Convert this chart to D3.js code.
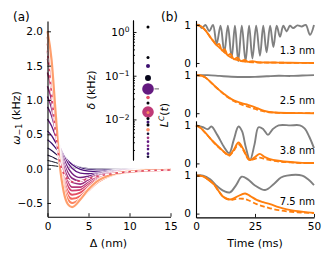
<!DOCTYPE html>
<html>
<head>
<meta charset="utf-8">
<script src="https://cdn.jsdelivr.net/npm/d3@7"></script>
<style>
  body { margin: 0; background: #fff; }
  svg { display: block; font-family: "DejaVu Sans", sans-serif; }
</style>
</head>
<body>
<svg id="chart" width="331" height="261"></svg>
<script>
// ---- panel (a): omega_-1 vs separation ----
const deltaNm = [0, 0.5, 1, 1.5, 2, 2.5, 3, 4, 5, 6, 8, 10, 12, 15];
const shade = [0.00, 0.04, 0.09, 0.14, 0.19, 0.24, 0.29, 0.34, 0.39, 0.44, 0.50, 0.56, 0.62, 0.68, 0.74, 0.80];
const omega = [
  [0.05, 0.045, 0.038, 0.03, 0.023, 0.017, 0.012, 0.005, 0.001, -0.001, -0.001, 0, 0, 0],
  [0.12, 0.105, 0.088, 0.07, 0.054, 0.04, 0.028, 0.011, 0.002, -0.002, -0.003, -0.002, -0.001, 0],
  [0.2, 0.175, 0.145, 0.115, 0.087, 0.064, 0.044, 0.016, 0.001, -0.005, -0.005, -0.003, -0.002, -0.001],
  [0.3, 0.265, 0.215, 0.168, 0.125, 0.09, 0.06, 0.018, -0.004, -0.011, -0.01, -0.006, -0.003, -0.001],
  [0.42, 0.37, 0.3, 0.23, 0.165, 0.11, 0.068, 0.012, -0.015, -0.022, -0.017, -0.01, -0.005, -0.002],
  [0.55, 0.48, 0.38, 0.28, 0.19, 0.115, 0.06, -0.01, -0.035, -0.04, -0.028, -0.016, -0.009, -0.004],
  [0.72, 0.62, 0.47, 0.32, 0.185, 0.08, 0.005, -0.065, -0.075, -0.065, -0.04, -0.023, -0.013, -0.005],
  [0.9, 0.77, 0.55, 0.32, 0.14, 0.01, -0.07, -0.13, -0.11, -0.078, -0.035, -0.018, -0.01, -0.005],
  [1.05, 0.88, 0.6, 0.3, 0.08, -0.06, -0.14, -0.18, -0.14, -0.095, -0.042, -0.022, -0.013, -0.007],
  [1.2, 1.0, 0.64, 0.27, 0.02, -0.13, -0.2, -0.225, -0.17, -0.11, -0.05, -0.026, -0.015, -0.008],
  [1.4, 1.15, 0.7, 0.25, -0.05, -0.2, -0.27, -0.27, -0.2, -0.13, -0.058, -0.03, -0.018, -0.01],
  [1.6, 1.3, 0.75, 0.22, -0.1, -0.26, -0.32, -0.31, -0.23, -0.15, -0.066, -0.035, -0.021, -0.012],
  [1.72, 1.39, 0.78, 0.18, -0.16, -0.33, -0.38, -0.35, -0.26, -0.17, -0.074, -0.039, -0.024, -0.014],
  [1.82, 1.46, 0.8, 0.14, -0.22, -0.39, -0.44, -0.4, -0.29, -0.19, -0.082, -0.043, -0.027, -0.016],
  [1.92, 1.53, 0.81, 0.1, -0.28, -0.45, -0.5, -0.44, -0.32, -0.21, -0.09, -0.047, -0.03, -0.018],
  [2.0, 1.58, 0.8, 0.05, -0.35, -0.52, -0.56, -0.45, -0.3, -0.19, -0.08, -0.042, -0.026, -0.016]
];
const dashedOmega = [1.7, 1.1, 0.5, 0.1, -0.08, -0.16, -0.19, -0.18, -0.145, -0.115, -0.07, -0.045, -0.03, -0.02];
const xTicksA = [0, 5, 10, 15];
const yTicksA = [-0.5, 0, 0.5, 1, 1.5, 2];

// inset: delta values
const deltaKhz = [1.3, 0.26, 0.167, 0.089, 0.0498, 0.0318, 0.0238, 0.0148, 0.0144, 0.0105, 0.0087, 0.0075, 0.0058, 0.0047, 0.0038, 0.0031, 0.0025, 0.0021, 0.00165, 0.0014];
const dotShade = [0.0, 0.02, 0.2, 0.05, 0.3, 0.62, 0.02, 0.52, 0.75, 0.02, 0.2, 0.02, 0.75, 0.1, 0.45, 0.3, 0.35, 0.25, 0.2, 0.1];
const dotWeight = [1.3, 1.3, 2.3, 5, 19, 1.8, 1.3, 19, 1.3, 1.3, 1.3, 1.3, 1.8, 1, 1, 1, 1, 1, 1, 1];
const markDelta = 0.05;
const yTicksIn = [1, 0.1, 0.01];
const yTickExp = ["0", "\u22121", "\u22122"];

// ---- panel (b): L^C(t) ----
const gray13 = [[0,1],[1.2,1],[2.5,0.92],[4,1],[5.6,0.84],[7.2,1],[8.75,0.5],[10.4,0.98],[12,0.28],[13.5,0.98],[15.1,0.14],[16.5,0.98],[17.9,0.05],[19.4,0.98],[21,0.05],[22.5,0.98],[23.9,0.12],[25.5,0.98],[27.1,0.19],[28.5,0.98],[29.9,0.28],[31.4,0.98],[32.8,0.42],[34.2,0.98],[35.6,0.69],[37,0.98],[38.4,0.83],[39.8,0.98],[41.2,0.92],[43,0.99],[44.8,0.96],[46.5,1],[48.3,0.74],[50,1]];
const orange13 = [[0,1],[2,0.97],[4,0.86],[6,0.68],[7.5,0.57],[8.7,0.47],[9.8,0.5],[11,0.33],[12.2,0.36],[13.4,0.2],[14.6,0.24],[16,0.1],[17.5,0.14],[19,0.05],[20.5,0.08],[22,0.03],[24,0.05],[26,0.02],[30,0.015],[35,0.01],[40,0.005],[50,0]];
const dashed13 = [[0,1],[2,0.97],[4,0.86],[6,0.69],[8,0.52],[10,0.4],[12,0.28],[14,0.18],[16,0.11],[18,0.07],[20,0.04],[24,0.02],[30,0.01],[40,0.005],[50,0]];
const gray25 = [[0,1],[5,1],[10,0.98],[15,0.96],[20,0.95],[25,0.955],[30,0.97],[35,0.985],[40,0.98],[45,0.99],[50,1]];
const orange25 = [[0,1],[2,0.99],[4,0.94],[6,0.83],[8,0.71],[10,0.6],[12,0.5],[14,0.41],[16,0.34],[18,0.29],[20,0.25],[22,0.22],[24,0.18],[26,0.13],[28,0.08],[30,0.045],[32,0.025],[35,0.01],[40,0.005],[50,0]];
const dashed25 = [[0,1],[2,0.99],[4,0.94],[6,0.83],[8,0.71],[10,0.6],[12,0.49],[14,0.4],[16,0.32],[18,0.26],[20,0.21],[22,0.17],[24,0.13],[26,0.09],[28,0.06],[30,0.035],[32,0.02],[35,0.01],[40,0.004],[50,0]];
const gray38 = [[0,1],[3,0.95],[5,0.9],[6.5,0.97],[9,0.75],[12,0.42],[14.1,0.27],[16,0.62],[18,0.97],[19.5,0.85],[21,0.45],[22.9,0.09],[24.8,0.5],[26.5,0.95],[28.5,0.9],[30.5,0.75],[32.5,0.9],[35,1],[40,1],[44,1],[46,0.92],[48,0.7],[50,0.4]];
const orange38 = [[0,1],[2,0.93],[4,0.8],[6,0.66],[8,0.53],[10,0.41],[12,0.3],[14,0.22],[16,0.36],[18,0.55],[20,0.38],[22,0.14],[23,0.09],[25,0.17],[27,0.25],[29,0.17],[31,0.12],[35,0.07],[40,0.035],[45,0.015],[50,0.01]];
const dashed38 = [[0,1],[2,0.93],[4,0.8],[6,0.66],[8,0.52],[10,0.4],[12,0.29],[14,0.2],[16,0.33],[18,0.5],[20,0.35],[22,0.12],[23,0.08],[25,0.12],[27,0.15],[29,0.12],[31,0.09],[35,0.05],[40,0.025],[45,0.01],[50,0.005]];
const gray75 = [[0,1],[3,1],[6,0.9],[9,0.72],[12,0.59],[14.4,0.56],[17,0.75],[19.4,0.97],[22,0.9],[25,0.74],[29.3,0.62],[33,0.78],[36,0.95],[38.5,1],[45,1],[47.5,0.9],[50,0.75]];
const orange75 = [[0,1],[3,0.98],[5,0.9],[7.4,0.78],[9.5,0.6],[11.6,0.44],[14.4,0.37],[17.2,0.44],[20.8,0.53],[23,0.46],[25.7,0.36],[28.5,0.3],[31.4,0.25],[35,0.17],[38.5,0.11],[42,0.07],[45.6,0.045],[50,0.02]];
const dashed75 = [[0,1],[3,0.98],[5,0.9],[7.4,0.78],[9.5,0.6],[11.6,0.44],[14.4,0.36],[17.2,0.39],[20,0.39],[21.5,0.37],[25.7,0.25],[28.5,0.19],[31.4,0.14],[35,0.09],[38.5,0.06],[42,0.04],[45.6,0.025],[50,0.01]];
const sepLabels = ["1.3 nm", "2.5 nm", "3.8 nm", "7.5 nm"];
const xTicksB = [0, 25, 50];
const yTicksB = [0, 1];

const FONT = "DejaVu Sans";
const svg = d3.select("#chart");

function styleAxis(g, size) {
  g.attr("font-family", FONT).attr("font-size", size);
  g.select(".domain").attr("stroke-width", 1.1);
  g.selectAll(".tick line").attr("stroke-width", 0.9);
}

// ---------- panel (a) ----------
const xA = d3.scaleLinear().domain([0, 15]).range([47.5, 170.5]);
const yA = d3.scaleLinear().domain([-0.7, 2.15]).range([216.7, 21]);
const lineA = d3.line()
  .x((d, i) => xA(deltaNm[i]))
  .y(d => yA(d))
  .curve(d3.curveMonotoneX);

const gA = svg.append("g");
omega.forEach((row, k) => {
  const w = 0.9 + 1.6 * shade[k];
  gA.append("path").attr("d", lineA(row)).attr("fill", "none")
    .attr("stroke", "#fff").attr("stroke-width", w + 1.2);
  gA.append("path").attr("d", lineA(row)).attr("fill", "none")
    .attr("stroke", d3.interpolateMagma(shade[k])).attr("stroke-width", w);
});
gA.append("path").attr("d", lineA(dashedOmega)).attr("fill", "none")
  .attr("stroke", d3.interpolateMagma(0.6)).attr("stroke-width", 1.6);
gA.append("path").attr("d", lineA(dashedOmega)).attr("fill", "none")
  .attr("stroke", "#fff").attr("stroke-width", 1.4).attr("stroke-dasharray", "4,2.5");

gA.append("g").attr("transform", "translate(0,216.7)")
  .call(d3.axisBottom(xA).tickValues(xTicksA).tickFormat(d3.format("d"))
    .tickSize(-3.5).tickSizeOuter(0).tickPadding(5.5))
  .call(g => styleAxis(g, 10.5));
gA.append("g").attr("transform", "translate(47.5,0)")
  .call(d3.axisLeft(yA).tickValues(yTicksA).tickFormat(d3.format(".1f"))
    .tickSize(-3.5).tickSizeOuter(0).tickPadding(4.5))
  .call(g => styleAxis(g, 10.5));

gA.append("text").attr("x", 108.5).attr("y", 246.5).attr("text-anchor", "middle")
  .attr("font-family", FONT).attr("font-size", 11).text("\u0394 (nm)");
const yLabA = gA.append("text").attr("transform", "translate(19.5,118) rotate(-90)")
  .attr("text-anchor", "middle").attr("font-family", FONT).attr("font-size", 11);
yLabA.append("tspan").attr("font-style", "italic").text("\u03c9");
yLabA.append("tspan").attr("font-size", 8).attr("dy", 2.5).text("\u22121");
yLabA.append("tspan").attr("dy", -2.5).text(" (kHz)");
svg.append("text").attr("x", 13).attr("y", 21).attr("font-family", FONT)
  .attr("font-size", 12).text("(a)");

// ---------- inset ----------
const yIn = d3.scaleLog().domain([0.00118, 1.88]).range([160, 20]);
const dotX = 148;
const rIn = d3.scaleSqrt().domain([0, 19]).range([0, 5.8]);
const gIn = svg.append("g");
gIn.append("g").attr("transform", "translate(133,0)")
  .call(d3.axisLeft(yIn).tickValues(yIn.ticks().filter(v => !yTicksIn.includes(v)))
    .tickFormat("").tickSize(-2).tickSizeOuter(0))
  .call(g => styleAxis(g, 10));
const axIn = gIn.append("g").attr("transform", "translate(133,0)")
  .call(d3.axisLeft(yIn).tickValues(yTicksIn).tickFormat(() => "10")
    .tickSize(-3.5).tickSizeOuter(0).tickPadding(3.5))
  .call(g => styleAxis(g, 10.5));
axIn.selectAll(".tick text").each(function (d, i) {
  d3.select(this).append("tspan").attr("dy", "-0.45em").attr("font-size", 7.5).text(yTickExp[i]);
});
gIn.selectAll("circle").data(deltaKhz).join("circle")
  .attr("cx", dotX).attr("cy", d => yIn(d))
  .attr("r", (d, i) => rIn(dotWeight[i]))
  .attr("fill", (d, i) => d3.interpolateMagma(dotShade[i]));
gIn.append("line").attr("x1", dotX + 6.5).attr("x2", dotX + 11)
  .attr("y1", yIn(markDelta)).attr("y2", yIn(markDelta))
  .attr("stroke", "#808080").attr("stroke-width", 1.2);
const yLabIn = gIn.append("text").attr("transform", "translate(95,90) rotate(-90)")
  .attr("text-anchor", "middle").attr("font-family", FONT).attr("font-size", 11);
yLabIn.append("tspan").attr("font-style", "italic").text("\u03b4");
yLabIn.append("tspan").text(" (kHz)");

// ---------- panel (b) ----------
const xB = d3.scaleLinear().domain([0, 50]).range([196, 314]);
const panels = [
  { gray: gray13, solid: orange13, dashed: dashed13 },
  { gray: gray25, solid: orange25, dashed: dashed25 },
  { gray: gray38, solid: orange38, dashed: dashed38 },
  { gray: gray75, solid: orange75, dashed: dashed75 }
];
panels.forEach((p, i) => {
  const top = 20.4 + i * 50.2;
  const yB = d3.scaleLinear().domain([-0.1, 1.12]).range([top + 46.4, top]);
  const lineB = d3.line().x(d => xB(d[0])).y(d => yB(d[1])).curve(d3.curveCatmullRom.alpha(0.5));
  const g = svg.append("g");
  g.append("path").attr("d", lineB(p.gray)).attr("fill", "none")
    .attr("stroke", "#808080").attr("stroke-width", 1.9);
  g.append("path").attr("d", lineB(p.solid)).attr("fill", "none")
    .attr("stroke", "#ff7f0e").attr("stroke-width", 1.9);
  g.append("path").attr("d", lineB(p.dashed)).attr("fill", "none")
    .attr("stroke", "#ff7f0e").attr("stroke-width", 1.8).attr("stroke-dasharray", "5,2.5");
  g.append("g").attr("transform", "translate(196,0)")
    .call(d3.axisLeft(yB).tickValues(yTicksB).tickFormat(d3.format("d"))
      .tickSize(-3.5).tickSizeOuter(0).tickPadding(5))
    .call(a => styleAxis(a, 10.5));
  g.append("text").attr("x", 315).attr("y", top + 33.5).attr("text-anchor", "end")
    .attr("font-family", FONT).attr("font-size", 10).text(sepLabels[i]);
  if (i === panels.length - 1) {
    g.append("g").attr("transform", `translate(0,${top + 46.4})`)
      .call(d3.axisBottom(xB).tickValues(xTicksB).tickFormat(d3.format("d"))
        .tickSize(-3.5).tickSizeOuter(0).tickPadding(5.5))
      .call(a => styleAxis(a, 10.5));
  }
});
svg.append("text").attr("x", 255).attr("y", 246.5).attr("text-anchor", "middle")
  .attr("font-family", FONT).attr("font-size", 11).text("Time (ms)");
const yLabB = svg.append("text").attr("transform", "translate(168,115) rotate(-90)")
  .attr("text-anchor", "middle").attr("font-family", FONT).attr("font-size", 11);
yLabB.append("tspan").attr("font-style", "italic").text("L");
yLabB.append("tspan").attr("font-style", "italic").attr("font-size", 7.5).attr("dy", -4).text("C");
yLabB.append("tspan").attr("dy", 4).text("(");
yLabB.append("tspan").attr("font-style", "italic").text("t");
yLabB.append("tspan").text(")");
svg.append("text").attr("x", 161).attr("y", 21).attr("font-family", FONT)
  .attr("font-size", 12).text("(b)");
</script>
</body>
</html>
